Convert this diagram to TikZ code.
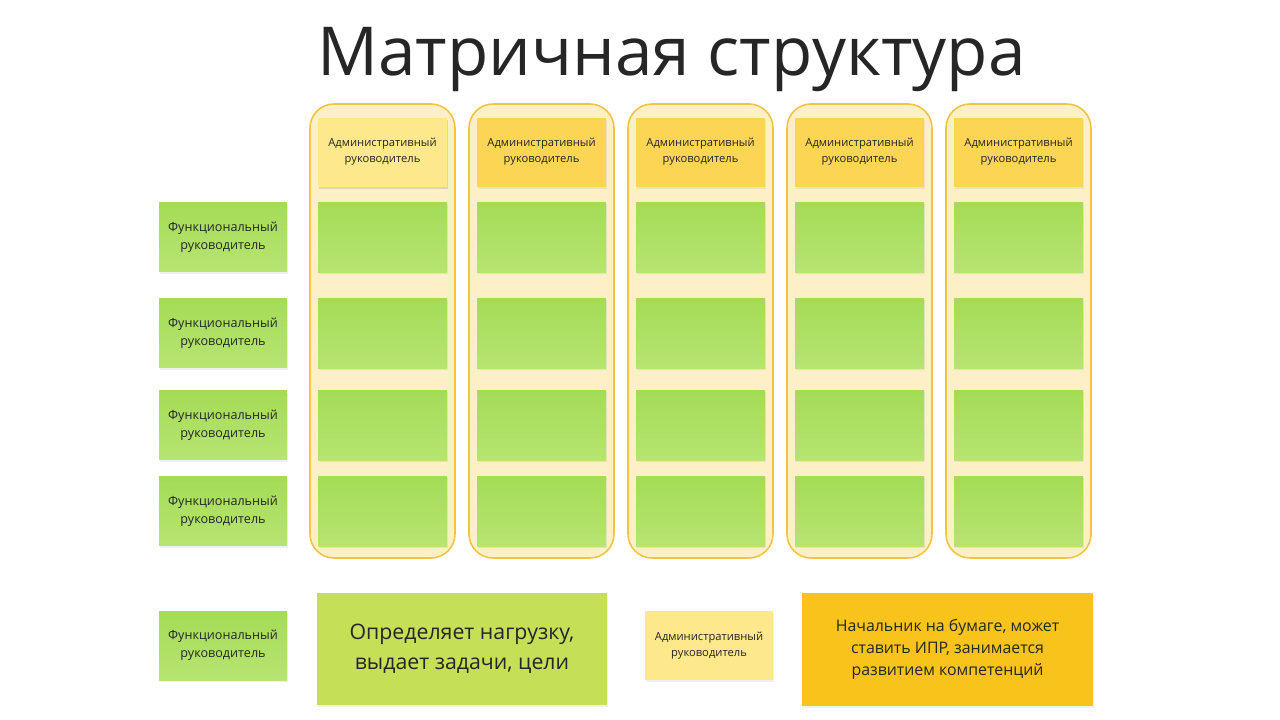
\documentclass[tikz,border=0pt]{standalone}
\usepackage{fontspec}
\setmainfont{Open Sans}
\usetikzlibrary{positioning}
\usetikzlibrary{shadows}

\definecolor{colfill}{HTML}{FDF0C6}
\definecolor{colline}{HTML}{F2C443}
\definecolor{admlight}{HTML}{FDE88C}
\definecolor{admdark}{HTML}{FDD555}
\definecolor{greentop}{HTML}{A4DC56}
\definecolor{greenbot}{HTML}{B7E472}
\definecolor{limebox}{HTML}{C5DF56}
\definecolor{orangebox}{HTML}{F8C41C}
\definecolor{inkgray}{HTML}{262626}

\tikzset{
  column/.style={draw=colline, line width=1.6pt, fill=colfill, rounded corners=24pt,
    minimum width=145pt, minimum height=454pt},
  note/.style={minimum width=129pt, minimum height=69pt, inner sep=0pt, align=center,
    text=inkgray, drop shadow={opacity=0.12, shadow xshift=1pt, shadow yshift=-2pt}},
  adm/.style={note, fill=admdark, font=\fontsize{11.2}{16}\selectfont},
  cell/.style={note, top color=greentop, bottom color=greenbot, minimum height=70pt},
  func/.style={note, top color=greentop, bottom color=greenbot, minimum width=128pt,
    font=\fontsize{12.6}{18}\selectfont},
}

\begin{document}
\begin{tikzpicture}[x=1pt, y=-1pt]
  % Рамка картинки
  \useasboundingbox (0,0) rectangle (1280,720);

  %% ЗАГОЛОВОК %%
  \node[anchor=base, text=inkgray, font=\fontsize{67.5}{75}\selectfont] (title) at (671.5,75) {Матричная структура};

  %% КОЛОНКИ %%
  % Колонки, шапки и зелёные ячейки
  \foreach \i/\x in {1/382.5, 2/541.5, 3/700.5, 4/859.5, 5/1018.5} {
    \node[column] (col\i) at (\x,331) {};
    \node[adm] (adm\i) at (\x,152) {Административный\\руководитель};
    \foreach \j/\y in {1/237, 2/333, 3/425, 4/511}
      \node[cell] (cell\i\j) at (\x,\y) {};
  }
  % Первая шапка светлее
  \node[adm, fill=admlight] (adm1) at (382.5,152) {Административный\\руководитель};

  %% СТРОКИ СЛЕВА %%
  \foreach \j/\y in {1/237, 2/333, 3/425, 4/511}
    \node[func] (func\j) at (223,\y) {Функциональный\\руководитель};

  %% ЛЕГЕНДА %%
  \node[func, minimum height=69pt] (funcL) at (223,645.5) {Функциональный\\руководитель};
  \node[note, fill=limebox, minimum width=290pt, minimum height=112pt,
    font=\fontsize{21.3}{30}\selectfont] (funcText) at (462,649) {Определяет нагрузку,\\выдает задачи, цели};
  \node[adm, fill=admlight, minimum width=128pt] (admL) at (709,645.5) {Административный\\руководитель};
  \node[note, fill=orangebox, minimum width=291pt, minimum height=113pt,
    font=\fontsize{15.9}{22}\selectfont] (admText) at (947.5,649.5) {Начальник на бумаге, может\\ставить ИПР, занимается\\развитием компетенций};
\end{tikzpicture}
\end{document}
